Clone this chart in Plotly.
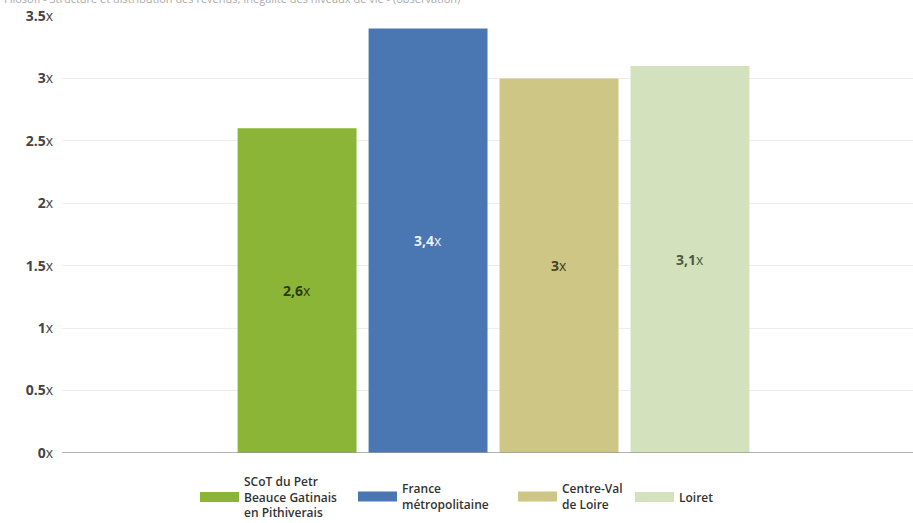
import plotly.graph_objects as go

# Ratio inter-décile (D9/D1) des revenus disponibles
territoires = [
    "SCoT du Petr<br>Beauce Gatinais<br>en Pithiverais",
    "France<br>métropolitaine",
    "Centre-Val<br>de Loire",
    "Loiret",
]
ratios = [2.6, 3.4, 3.0, 3.1]
ratio_labels = ["2,6", "3,4", "3", "3,1"]
couleurs = ["#8bb536", "#4a77b1", "#cdc684", "#d3e2bc"]
couleurs_texte = ["#2c3a12", "#e9eff8", "#454128", "#4e5a40"]

tick_vals = [0, 0.5, 1, 1.5, 2, 2.5, 3, 3.5]
tick_text = ["0", "0.5", "1", "1.5", "2", "2.5", "3", "3.5"]

source = ("Filosofi - Structure et distribution des revenus, Inégalité des "
          "niveaux de vie - (observation)")

FONT = "Open Sans"
W, H = 913, 523
ML, MR, MT, MB = 62, 0, 16, 70
PW = W - ML - MR

# left edge (px) of each legend swatch
legend_px = [200, 358, 518, 635]
legend_ids = ["legend", "legend2", "legend3", "legend4"]

fig = go.Figure()
for nom, val, lab, col, tcol in zip(territoires, ratios, ratio_labels,
                                    couleurs, couleurs_texte):
    fig.add_trace(go.Bar(
        x=[0], y=[val], name=nom, showlegend=False,
        marker=dict(color=col, line=dict(width=0)),
        text=[f"<b>{lab}</b>x"],
        textposition="inside",
        insidetextanchor="middle",
        textangle=0,
        textfont=dict(family=FONT, size=14, color=tcol),
        hovertemplate=f"{lab}x<extra></extra>",
    ))

# one legend per territory, each vertically centred on the same line,
# with a wide swatch (thick line symbol)
for nom, col, lid in zip(territoires, couleurs, legend_ids):
    fig.add_trace(go.Scatter(
        x=[None], y=[None], mode="lines", name=nom, legend=lid,
        line=dict(color=col, width=16), hoverinfo="skip",
    ))

legend_common = dict(
    orientation="h", xanchor="left",
    yref="container", y=1 - 497 / H, yanchor="middle",
    valign="middle", itemwidth=39,
    font=dict(family=FONT, size=12, color="#333", weight=600),
    itemclick=False, itemdoubleclick=False, bgcolor="rgba(0,0,0,0)",
)
legend_layout = {
    lid: dict(legend_common, x=(px - 5 - ML) / PW)
    for lid, px in zip(legend_ids, legend_px)
}

fig.update_layout(
    width=W, height=H,
    margin=dict(l=ML, r=MR, t=MT, b=MB),
    paper_bgcolor="white", plot_bgcolor="white",
    barmode="group", bargap=0.393, bargroupgap=0.092,
    font=dict(family=FONT, size=12, color="#444"),
    showlegend=True,
    xaxis=dict(
        range=[-0.5, 0.486], showticklabels=False, showgrid=False,
        zeroline=False, showline=False, fixedrange=True,
    ),
    yaxis=dict(
        range=[0, 3.5], tickvals=tick_vals,
        ticktext=[f"<b>{t}</b>x" for t in tick_text],
        tickfont=dict(family=FONT, size=14, color="#444"),
        showgrid=True, gridcolor="#ededed", gridwidth=1,
        zeroline=False, showline=False, ticks="", ticklabelstandoff=8,
    ),
    shapes=[dict(type="line", xref="paper", yref="y", x0=0, x1=1, y0=0, y1=0,
                 line=dict(color="#999", width=1.5), layer="above")],
    annotations=[dict(
        text=source, xref="paper", yref="paper", x=-(ML - 2) / PW,
        y=1, xanchor="left", yanchor="middle", yshift=MT + 2, showarrow=False,
        font=dict(family=FONT, size=11, color="#aaa"),
    )],
    **legend_layout,
)

fig.write_html("out.html")
